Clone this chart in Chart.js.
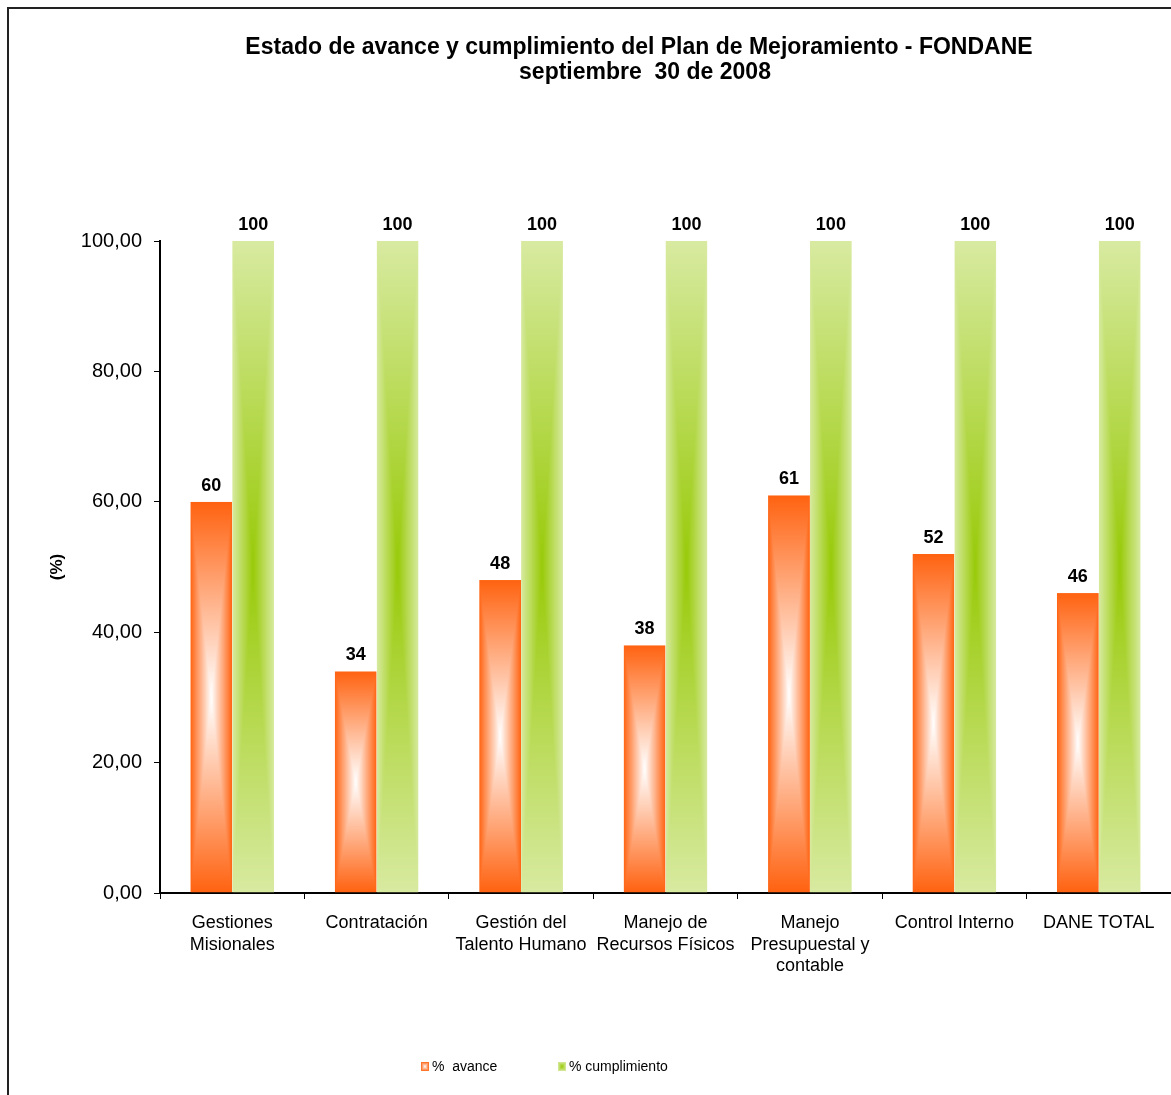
<!DOCTYPE html>
<html><head><meta charset="utf-8">
<script src="https://cdn.jsdelivr.net/npm/chart.js@4"></script>
<style>
html,body{margin:0;padding:0;background:#fff;overflow:hidden}
#wrap{position:relative;width:1171px;height:1095px;overflow:hidden}
#frame{position:absolute;left:7px;top:7px;width:1300px;height:1300px;border-left:2px solid #222;border-top:2px solid #222}
canvas{position:absolute;left:0;top:0}
</style></head>
<body><div id="wrap"><div id="frame"></div><canvas id="c" width="1171" height="1095"></canvas></div>
<script>
const categories = [
  ["Gestiones","Misionales"],
  "Contratación",
  ["Gestión del","Talento Humano"],
  ["Manejo de","Recursos Físicos"],
  ["Manejo","Presupuestal y","contable"],
  "Control Interno",
  "DANE TOTAL"
];
const avance = [60, 34, 48, 38, 61, 52, 46];
const cumplimiento = [100, 100, 100, 100, 100, 100, 100];
const seriesNames = ["%  avance", "% cumplimiento"];
const titleLines = ["Estado de avance y cumplimiento del Plan de Mejoramiento - FONDANE", "septiembre  30 de 2008"];

const palettes = [
  {center:[255,255,255], edge:[255,98,16]},
  {center:[152,202,8], edge:[216,234,161]}
];

function rectGradCanvas(w,h,pal){
  const W=Math.max(1,Math.round(w)), H=Math.max(1,Math.round(h));
  const c=document.createElement('canvas'); c.width=W; c.height=H;
  const g=c.getContext('2d'); const img=g.createImageData(W,H);
  const hw=W/2, hh=H/2;
  for(let y=0;y<H;y++){
    const dy=Math.abs(y+0.5-hh)/hh;
    for(let x=0;x<W;x++){
      const dx=Math.abs(x+0.5-hw)/hw;
      const t=Math.min(1,Math.max(dx,dy));
      const i=(y*W+x)*4;
      for(let k=0;k<3;k++) img.data[i+k]=Math.round(pal.center[k]+(pal.edge[k]-pal.center[k])*t);
      img.data[i+3]=255;
    }
  }
  g.putImageData(img,0,0);
  return c;
}

const fillPlugin = {
  id:'rectFill',
  beforeDatasetsDraw(chart){
    const ctx=chart.ctx;
    chart.data.datasets.forEach((ds,di)=>{
      const meta=chart.getDatasetMeta(di);
      meta.data.forEach(el=>{
        const left=el.x-el.width/2, top=Math.min(el.y,el.base), h=Math.abs(el.base-el.y);
        const cv=rectGradCanvas(el.width,h,palettes[di]);
        const pat=ctx.createPattern(cv,'no-repeat');
        pat.setTransform(new DOMMatrix().translate(left,top).scale(el.width/cv.width,h/cv.height));
        el.options=Object.assign({},el.options,{backgroundColor:pat});
      });
    });
  },
  afterDatasetsDraw(chart){
    const ctx=chart.ctx;
    ctx.save();
    ctx.fillStyle='#000';
    ctx.font='bold 18px "Liberation Sans", Arial, sans-serif';
    ctx.textAlign='center'; ctx.textBaseline='alphabetic';
    chart.data.datasets.forEach((ds,di)=>{
      chart.getDatasetMeta(di).data.forEach((el,i)=>{
        ctx.fillText(String(ds.data[i]), el.x, el.y-11);
      });
    });
    ctx.restore();
  },
  afterDraw(chart){
    const ctx=chart.ctx;
    ctx.save();
    ctx.fillStyle='#000';
    ctx.font='bold 23px "Liberation Sans", Arial, sans-serif';
    ctx.textAlign='center'; ctx.textBaseline='middle';
    ctx.fillText(titleLines[0], 639, 48);
    ctx.fillText(titleLines[1], 645, 73);
    // legend
    const items=[{x:421},{x:558}];
    ctx.font='14px "Liberation Sans", Arial, sans-serif';
    ctx.textAlign='left';
    items.forEach((it,i)=>{
      const cv=rectGradCanvas(8,9,palettes[i]);
      ctx.drawImage(cv,it.x,1062);
      ctx.fillStyle='#000';
      ctx.fillText(seriesNames[i], it.x+11, 1067);
    });
    ctx.restore();
  }
};

new Chart(document.getElementById('c'),{
  type:'bar',
  data:{
    labels:categories,
    datasets:[
      {label:seriesNames[0], data:avance, backgroundColor:'#FF6210', borderWidth:0},
      {label:seriesNames[1], data:cumplimiento, backgroundColor:'#D8EAA1', borderWidth:0}
    ]
  },
  plugins:[fillPlugin],
  options:{
    responsive:false,
    animation:false,
    devicePixelRatio:1,
    layout:{padding:{left:43,top:241,right:0,bottom:0}},
    datasets:{bar:{categoryPercentage:0.58,barPercentage:1}},
    plugins:{legend:{display:false},title:{display:false},tooltip:{enabled:false}},
    scales:{
      x:{
        offset:true,
        grid:{display:true,drawOnChartArea:false,offset:true,color:'#000',tickLength:6,tickColor:'#000'},
        border:{display:true,color:'#000',width:2},
        ticks:{color:'#000',font:{family:'"Liberation Sans", Arial, sans-serif',size:18,lineHeight:1.17},padding:14,maxRotation:0,autoSkip:false},
        afterFit(s){s.height=202;}
      },
      y:{
        min:0,max:100,
        ticks:{stepSize:20,color:'#000',padding:12,font:{family:'"Liberation Sans", Arial, sans-serif',size:20},
          callback:v=>v.toFixed(2).replace('.',',')},
        grid:{display:true,drawOnChartArea:false,color:'#000',tickLength:6,tickColor:'#000'},
        border:{display:true,color:'#000',width:2},
        title:{display:true,text:'(%)',color:'#000',font:{family:'"Liberation Sans", Arial, sans-serif',size:17,weight:'bold'}},
        afterFit(s){s.width=117;}
      }
    }
  }
});
</script>
</body></html>
